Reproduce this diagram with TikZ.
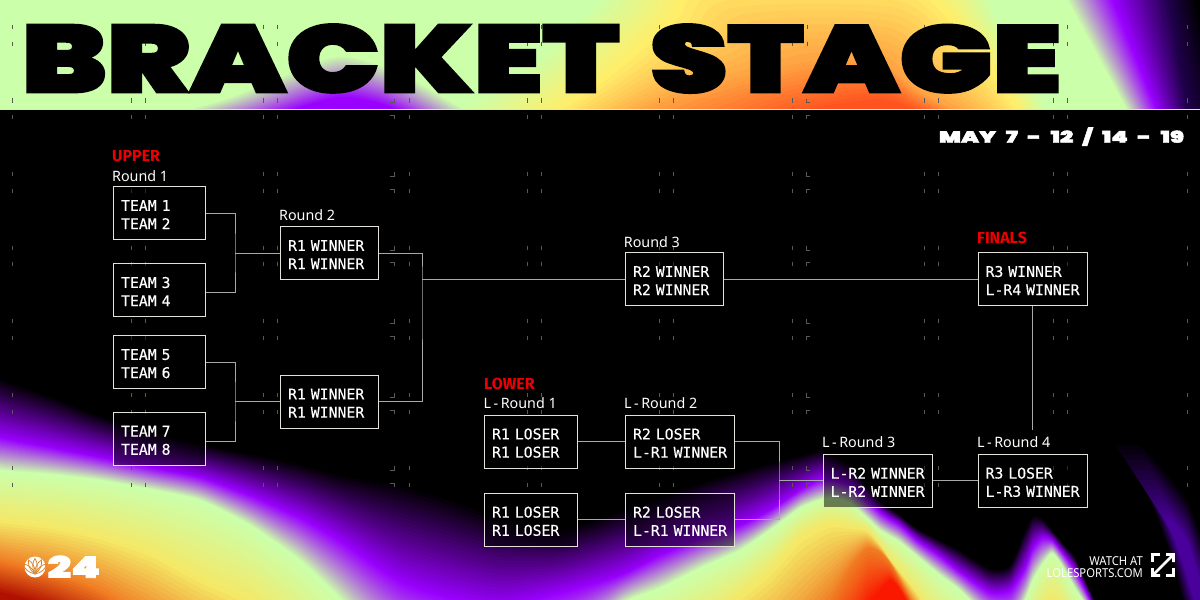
\documentclass[tikz,border=0pt]{standalone}
\usepackage{fontspec}
\usepackage{graphicx}
\setmainfont{Noto Sans}
\newfontfamily\displayfont{Poppins Black}[FakeBold=2.4]
\newfontfamily\cellfont{DejaVu Sans Mono}[FakeBold=.25]
\newfontfamily\tagfont{Fira Sans}
\newfontfamily\labelfont{Noto Sans}

\definecolor{edgepurple}{HTML}{9A00FF}
\definecolor{palegreen}{HTML}{CCFFAA}
\definecolor{warmyellow}{HTML}{F4E866}
\definecolor{warmorange}{HTML}{F07A22}
\definecolor{hotred}{HTML}{FA1800}
\definecolor{cornerred}{HTML}{B01000}
\definecolor{nightpurple}{HTML}{1E0048}
\definecolor{headyellow}{HTML}{FFEE6A}
\definecolor{headorange}{HTML}{FFA040}
\definecolor{headred}{HTML}{FF5420}
\definecolor{ribbonpurple}{HTML}{4A009A}
\definecolor{tagred}{HTML}{EE0000}
\definecolor{tickgrey}{HTML}{585858}
\definecolor{linegrey}{HTML}{A8A8A8}
\definecolor{boxline}{HTML}{E4E0DA}
\definecolor{crestorange}{HTML}{D98A35}

% Soft colour fields: stacked fills stepped from one contour to the next.
\newcommand\contourbands[5]{%
  \foreach \bandk in {1,...,#3}{%
    \pgfmathsetmacro\bandt{\bandk/#3}%
    \pgfmathsetmacro\bandpct{100*\bandt}%
    \gdef\bandpts{}%
    \foreach \xa/\ya/\xb/\yb in {#4}{%
      \pgfmathsetmacro\bandx{\xa+(\xb-\xa)*\bandt}%
      \pgfmathsetmacro\bandy{\ya+(\yb-\ya)*\bandt}%
      \xdef\bandpts{\bandpts(\bandx,\bandy)}%
    }%
    \edef\bandcmd{\noexpand\fill[fill=#2!\bandpct!#1] plot[smooth,tension=.5] coordinates {\bandpts} #5;}%
    \bandcmd
  }%
}

% Ground glow as a height table: x, then the edge of each colour step.
\def\groundtable{%
 -30/360/430/462/515/548/700,
 0/377/437/470/520/560/700,
 50/395/447/474/526/572/710,
 100/415/457/480/536/590/720,
 150/430/467/489/552/620/730,
 200/443/477/500/578/650/740,
 250/453/495/525/600/680/750,
 300/463/517/560/640/700/760,
 340/473/540/598/680/720/760,
 400/483/580/660/720/760/780,
 450/497/597/680/730/770/790,
 500/515/605/690/740/780/800,
 560/527/592/665/720/770/800,
 620/510/575/605/670/740/790,
 660/495/555/588/645/720/780,
 700/482/538/568/625/700/770,
 740/470/525/550/595/680/760,
 770/462/510/530/570/665/740,
 800/455/490/508/537/640/720,
 820/450/480/500/526/612/690,
 833/455/480/498/522/595/665,
 850/465/485/503/526/567/640,
 867/485/500/518/530/548/605,
 880/500/512/530/545/552/590,
 890/508/519/536/560/563/580,
 900/515/525/542/572/580/590,
 917/528/540/556/593/610/620,
 940/540/556/575/625/650/660,
 960/550/572/590/650/670/680,
 990/568/592/620/680/700/710,
 1010/565/590/630/690/710/720,
 1025/530/568/600/660/700/720,
 1033/515/548/580/630/700/720,
 1042/518/538/565/610/700/720,
 1052/530/540/553/600/700/720,
 1062/542/552/565/608/700/720,
 1075/557/570/588/640/700/720,
 1090/590/600/612/690/710/730,
 1100/605/625/640/700/720/740,
 1150/650/670/690/720/740/760,
 1230/650/670/690/720/740/760}

\newcommand\groundstage[4]{% from colour, to colour, stage number, layers
  \foreach \bandk in {1,...,#4}{%
    \pgfmathsetmacro\bandt{\bandk/#4}%
    \pgfmathsetmacro\bandpct{100*\bandt}%
    \gdef\bandpts{}%
    \foreach \gx/\ga/\gb/\gc/\gd/\ge/\gf in \groundtable {%
      \pgfmathsetmacro\gfrom{{\ga,\gb,\gc,\gd,\ge,\gf}[#3]}%
      \pgfmathsetmacro\gto{{\ga,\gb,\gc,\gd,\ge,\gf}[#3+1]}%
      \pgfmathsetmacro\bandy{\gfrom+(\gto-\gfrom)*\bandt}%
      \xdef\bandpts{\bandpts(\gx,\bandy)}%
    }%
    \edef\bandcmd{\noexpand\fill[fill=#2!\bandpct!#1] plot[smooth,tension=.4] coordinates {\bandpts} -- (1300,720) -- (-100,720) -- cycle;}%
    \bandcmd
  }%
}

% One bracket cell: left, top, width, height, first line, second line.
\newcommand\cell[7]{%
  \node[cellbox,minimum width=#4pt,minimum height=#5pt,text width=#4pt] (#1) at (#2,#3)
    {\rule{0pt}{14pt}\hspace*{7.5pt}#6\\[1.2pt]\hspace*{7.5pt}#7};}

\tikzset{
  cellbox/.style={anchor=north west,draw=boxline,line width=1.1pt,fill=black,fill opacity=.5,text opacity=1,
    text=white,inner xsep=0pt,inner ysep=0pt,align=left,font=\cellfont\fontsize{14.8}{17}\selectfont},
  wire/.style={draw=linegrey,line width=.9pt},
  roundlabel/.style={anchor=base west,inner sep=0pt,text=white,font=\labelfont\fontsize{14.3}{16}\selectfont},
  tag/.style={anchor=base west,inner sep=0pt,text=tagred,font=\tagfont\bfseries\fontsize{16}{17}\selectfont},
  tick/.style={draw=tickgrey,line width=.8pt},
  promo/.style={anchor=base east,inner sep=0pt,text=white,font=\labelfont\fontsize{12.3}{14}\selectfont},
  expand/.style={draw=white,line width=2.8pt}
}

\begin{document}
\begin{tikzpicture}[x=1pt,y=-1pt]
\useasboundingbox (0,0) rectangle (1200,600);
\begin{scope}
\clip (0,0) rectangle (1200,600);
\fill[black] (0,0) rectangle (1200,600);

% ground glow
\groundstage{black}{edgepurple}{0}{26}
\groundstage{edgepurple}{palegreen}{1}{32}
\groundstage{palegreen}{warmyellow}{2}{14}
\groundstage{warmyellow}{warmorange}{3}{14}
\groundstage{warmorange}{hotred}{4}{14}
\contourbands{warmorange}{cornerred}{12}{-30/548/-30/590,0/560/0/592,50/572/50/606,100/590/100/630,160/630/160/660}{-- (160,720) -- (-100,720) -- cycle}

% faint ribbon low on the right
\contourbands{black}{ribbonpurple}{16}{1112/440/1165/520,1145/490/1175/540,1170/555/1185/570,1188/610/1198/610,1230/610/1208/610,1208/555/1197/570,1185/495/1187/540,1138/440/1172/520}{-- cycle}

% header band
\begin{scope}
\clip (0,0) rectangle (1200,109);
\fill[palegreen] (0,0) rectangle (1200,109);
\contourbands{palegreen}{edgepurple}{24}{150/118/268/118,220/100/292/110,280/76/325/100,340/55/345/97,400/72/375/102,450/100/398/110,480/118/412/118}{-- cycle}
\contourbands{palegreen}{headyellow}{14}{440/118/545/118,530/60/610/70,590/5/670/15,620/-30/700/-20,950/-30/900/-20,1000/20/965/30,1030/70/1000/80,1050/118/1025/118}{-- cycle}
\contourbands{headyellow}{headorange}{12}{545/118/625/118,610/70/690/92,670/15/760/72,700/-20/820/60,900/-20/880/62,965/30/910/85,1000/80/945/105,1025/118/978/118}{-- cycle}
\contourbands{headorange}{headred}{12}{625/118/790/118,690/92/815/108,760/72/850/102,820/60/875/99,880/62/895/102,910/85/912/108,945/105/925/112,978/118/935/118}{-- cycle}
\contourbands{palegreen}{edgepurple}{20}{1063/-5/1110/-5,1127/112/1157/112}{-- (1300,112) -- (1300,-5) -- cycle}
\contourbands{edgepurple}{nightpurple}{16}{1110/-5/1167/-5,1157/112/1187/112}{-- (1300,112) -- (1300,-5) -- cycle}
\contourbands{nightpurple}{black}{8}{1167/-5/1193/-5,1187/112/1222/112}{-- (1300,112) -- (1300,-5) -- cycle}
\end{scope}

% registration marks
\foreach \ya/\yb in {27/44,100.5/117,174/191,248/264,321/338,395/412,468/485}{
  \foreach \tx in {12.6,131,145,263,277,409.5,527,541.5,659,673,792,924,938,1053,1067,1187}{
    \draw[tick] (\tx,\ya-2.3) -- (\tx,\ya+2.3);
    \draw[tick] (\tx,\yb-2.3) -- (\tx,\yb+2.3);
  }
}
\foreach \tx in {394,807}{
  \draw[tick] (\tx,24.7) -- (\tx,29.3) (\tx,41.7) -- (\tx,46.3);
}
\foreach \ya/\yb in {100.5/117,174/191,248/264,321/338,395/412,468/485}{
  \draw[tick] (390,\ya+2) -- (394,\ya+2) -- (394,\ya-2);
  \draw[tick] (390,\yb-2) -- (394,\yb-2) -- (394,\yb+2);
  \draw[tick] (806,\ya-2) -- (806,\ya+2) -- (810,\ya+2);
  \draw[tick] (806,\yb+2) -- (806,\yb-2) -- (810,\yb-2);
}

% headline
\draw[boxline,line width=1.4pt] (0,109.5) -- (1200,109.5);
\node[anchor=north west,inner sep=0pt,text=black] (headA) at (21.5,24) {\resizebox{597.5pt}{68pt}{\displayfont BRACKET}};
\node[anchor=north west,inner sep=0pt,text=black] (headB) at (650,24) {\resizebox{411pt}{68pt}{\displayfont STAGE}};
\node[anchor=north west,inner sep=0pt,text=white] (dates) at (938.7,127) {\resizebox{245pt}{15.5pt}{\displayfont\spaceskip=.42em MAY 7 - 12 / 14 - 19}};

% cells
\cell{ta}{113}{186}{91.5}{53}{TEAM 1}{TEAM 2}
\cell{tb}{113}{263}{91.5}{53}{TEAM 3}{TEAM 4}
\cell{tc}{113}{335}{91.5}{53}{TEAM 5}{TEAM 6}
\cell{td}{113}{411.7}{91.5}{53}{TEAM 7}{TEAM 8}
\cell{ua}{280}{226}{98}{53}{R1 WINNER}{R1 WINNER}
\cell{ub}{280}{374.5}{98}{53}{R1 WINNER}{R1 WINNER}
\cell{uc}{625}{252}{98}{53}{R2 WINNER}{R2 WINNER}
\cell{fin}{977.5}{252}{109.5}{53}{R3 WINNER}{L-R4 WINNER}
\cell{la}{484}{414.5}{93}{53}{R1 LOSER}{R1 LOSER}
\cell{lb}{484}{492.7}{93}{53}{R1 LOSER}{R1 LOSER}
\cell{lc}{625}{414.5}{109}{53}{R2 LOSER}{L-R1 WINNER}
\cell{ld}{625}{492.7}{109}{53}{R2 LOSER}{L-R1 WINNER}
\cell{le}{822.5}{453.7}{109.5}{53}{L-R2 WINNER}{L-R2 WINNER}
\cell{lf}{977.5}{453.7}{109.5}{53}{R3 LOSER}{L-R3 WINNER}

% connectors
\coordinate (colA) at (235,0);
\coordinate (colB) at (422,0);
\coordinate (colC) at (779,0);
\coordinate (finalDrop) at (1032.5,430);
\draw[wire] (ta.east) -| (colA |- ua.west) |- ([yshift=-2.5pt]tb.east);
\draw[wire] (colA |- ua.west) -- (ua.west);
\draw[wire] (tc.east) -| (colA |- ub.west) |- ([yshift=-2.5pt]td.east);
\draw[wire] (colA |- ub.west) -- (ub.west);
\draw[wire] (ua.east) -| (colB |- uc.west) |- (ub.east);
\draw[wire] (colB |- uc.west) -- (uc.west);
\draw[wire] (uc.east) -- (fin.west);
\draw[wire] (fin.south) -- (fin.south |- finalDrop);
\draw[wire] (la.east) -- (lc.west);
\draw[wire] (lb.east) -- (ld.west);
\draw[wire] (lc.east) -| (colC |- le.west) |- (ld.east);
\draw[wire] (colC |- le.west) -- (le.west);
\draw[wire] (le.east) -- (lf.west);

% round captions
\node[tag] (tagU) at (112,161) {UPPER};
\node[tag] (tagF) at (977,243) {FINALS};
\node[tag] (tagL) at (484,389) {LOWER};
\node[roundlabel] (rA) at (112,181) {Round 1};
\node[roundlabel] (rB) at (279,220) {Round 2};
\node[roundlabel] (rC) at (623.7,247) {Round 3};
\node[roundlabel] (rD) at (483.5,408.5) {L\kern2.5pt-\kern2.5pt Round 1};
\node[roundlabel] (rE) at (624,408.5) {L\kern2.5pt-\kern2.5pt Round 2};
\node[roundlabel] (rF) at (822,447.7) {L\kern2.5pt-\kern2.5pt Round 3};
\node[roundlabel] (rG) at (977,447.7) {L\kern2.5pt-\kern2.5pt Round 4};

% corner crest
\fill[white] (35,567) circle (10.5);
\foreach \ang in {-50,-25,0,25,50}{
  \draw[crestorange,line width=.8pt,rotate around={\ang:(35,574)}]
    (35,574) .. controls (31.5,568) and (32.5,562) .. (35,558.5)
             .. controls (37.5,562) and (38.5,568) .. (35,574);
}
\node[anchor=north west,inner sep=0pt,text=white] (logoNum) at (47.5,555.5) {\resizebox{52.5pt}{22pt}{\displayfont 24}};

% watch prompt
\node[promo] (watch) at (1143,565) {\scalebox{.915}[1]{WATCH AT}};
\node[promo] (site) at (1143,577.5) {\scalebox{.915}[1]{LOLESPORTS.COM}};
\draw[expand] (1160,554.5) -- (1152.5,554.5) -- (1152.5,562);
\draw[expand] (1173.5,568) -- (1173.5,575.5) -- (1166,575.5);
\draw[expand] (1166,554.5) -- (1173.5,554.5) -- (1173.5,562) (1173.5,554.5) -- (1163,565);
\draw[expand] (1160,575.5) -- (1152.5,575.5) -- (1152.5,568) (1152.5,575.5) -- (1163,565);
\end{scope}
\end{tikzpicture}
\end{document}
